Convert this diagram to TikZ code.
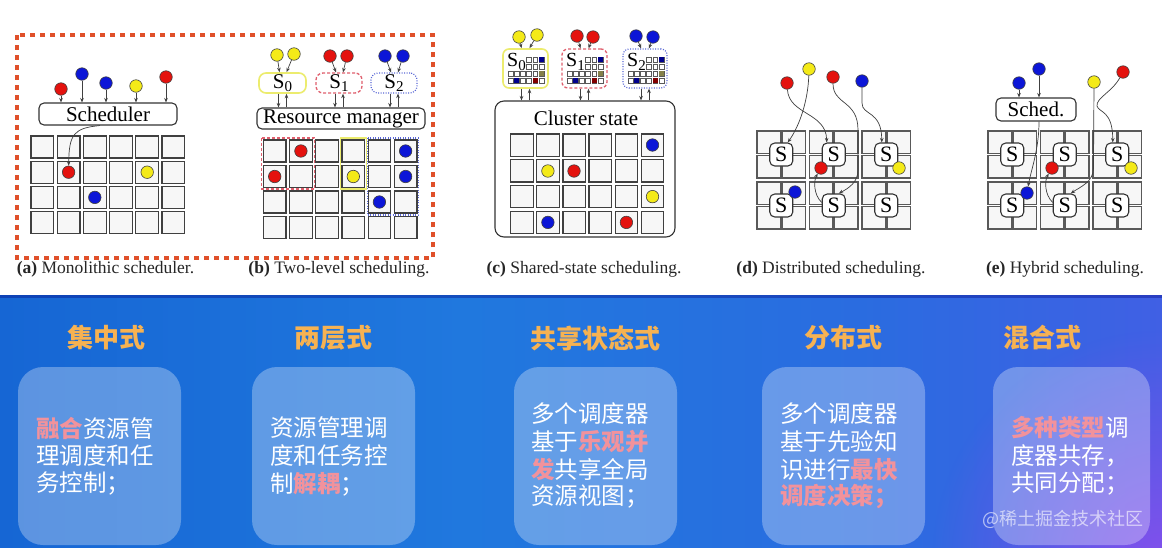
\documentclass[tikz,border=0pt]{standalone}
\usepackage{fontspec}
\setmainfont{Liberation Serif}
\newfontfamily\cjk{Noto Sans CJK SC}
\usetikzlibrary{arrows.meta,fadings}
\definecolor{ballred}{RGB}{228,18,14}
\definecolor{ballblue}{RGB}{12,22,215}
\definecolor{ballyel}{RGB}{244,234,24}
\definecolor{bordc}{RGB}{224,80,42}
\definecolor{yelc}{RGB}{236,236,110}
\definecolor{redc}{RGB}{224,96,110}
\definecolor{bluc}{RGB}{90,104,214}
\definecolor{headc}{RGB}{246,178,82}
\definecolor{pinkc}{RGB}{242,146,156}
\definecolor{bgA}{RGB}{22,102,212}
\definecolor{bgB}{RGB}{32,120,222}
\definecolor{bgC}{RGB}{42,108,224}
\definecolor{bgD}{RGB}{64,96,228}
\definecolor{purpc}{RGB}{130,80,236}
\pgfdeclarehorizontalshading{bgsh}{100bp}{color(0bp)=(bgA); color(25bp)=(bgA); color(45bp)=(bgB); color(62bp)=(bgC); color(75bp)=(bgD); color(100bp)=(bgD)}
\tikzfading[name=softcirc, inner color=transparent!0, outer color=transparent!100]
\newcommand\Sub[1]{S\raisebox{-3.5pt}{\fontsize{15}{15}\selectfont #1}}
\newcommand\hl[1]{\textcolor{pinkc}{\bfseries #1}}
\begin{document}
\begin{tikzpicture}[x=1pt,y=-1pt,
  cell/.style={draw=black!75, fill=black!3, line width=1.2pt},
  cellD/.style={draw=black!65, fill=black!3, line width=1.1pt},
  mini/.style={draw=black!65, fill=white, line width=0.5pt},
  ball/.style={circle, inner sep=0pt, minimum size=12.5pt, draw=black!75, line width=0.6pt},
  rb/.style={ball, fill=ballred},
  bb/.style={ball, fill=ballblue},
  yb/.style={ball, fill=ballyel},
  rbox/.style={draw=black!80, fill=white, rounded corners=5pt, line width=1.1pt, inner sep=0pt, font=\fontsize{21}{21}\selectfont},
  snode/.style={rbox, minimum width=23pt, minimum height=23pt, font=\fontsize{22}{22}\selectfont},
  arr/.style={draw=black!75, line width=0.7pt, -{Stealth[length=4.5pt,width=3.6pt]}},
  captxt/.style={font=\fontsize{17.5}{20}\selectfont, text=black!85},
  headtxt/.style={font=\cjk\bfseries\fontsize{26}{30}\selectfont, text=headc},
  bodytxt/.style={font=\cjk\fontsize{23.5}{28}\selectfont, text=white, anchor=west, inner sep=0pt},
  panelbox/.style={fill=white, fill opacity=0.3, rounded corners=25pt, inner sep=0pt}
]
\useasboundingbox (0,0) rectangle (1162,547);
\fill[white] (0,0) rectangle (1162,295);
% ---------- bottom background ----------
\shade[shading=bgsh] (0,295) rectangle (1162,547);
\begin{scope}
\clip (0,295) rectangle (1162,547);
\fill[purpc, path fading=softcirc] (1162,560) circle (230pt);
\end{scope}
\fill[black!50!blue, opacity=0.35] (0,295) rectangle (1162,298);

% ---------- (a) + (b) dashed frame ----------
\draw[draw=bordc, line width=4pt, dash pattern=on 5pt off 5pt] (17,35) rectangle (433,258);

% ---------- (a) Monolithic ----------
\foreach \i in {0,...,5}\foreach \j in {0,...,3}
  \draw[cell] ({31+26.2*\i},{136+25.2*\j}) rectangle ++(22.8,22);
\node[rbox, minimum width=138pt, minimum height=22pt] (sched) at (108,114) {Scheduler};
\node[rb] (a1) at (61,89) {};
\node[bb] (a2) at (82,74) {};
\node[bb] (a3) at (106,83) {};
\node[yb] (a4) at (136,86) {};
\node[rb] (a5) at (166,77) {};
\node[rb] (ag1) at (68.6,172.2) {};
\node[yb] (ag2) at (147.2,172.2) {};
\node[bb] (ag3) at (94.8,197.4) {};
\foreach \b in {a1,a2,a3,a4,a5} \draw[arr] (\b) -- (\b |- sched.north);
\draw[arr] ([xshift=-8pt]sched.south) .. controls (74,128) and (69,134) .. (ag1);
\node[captxt] (capa) at (105.5,269) {\textbf{(a)} Monolithic scheduler.};

% ---------- (b) Two-level ----------
\foreach \i in {0,...,5}\foreach \j in {0,...,3}
  \draw[cell] ({263.3+26.2*\i},{140+25.5*\j}) rectangle ++(22.7,22);
\draw[draw=redc, line width=1.3pt, dash pattern=on 3pt off 2pt] (261.5,138) rectangle (314.5,189);
\draw[draw=yelc, line width=1.5pt] (340.5,138) rectangle (366.6,189);
\draw[draw=bluc, line width=1.2pt, dash pattern=on 1pt off 1.5pt] (367.2,138) rectangle (418.5,215);
\node[rbox, draw=yelc, line width=1.6pt, rounded corners=7pt, minimum width=47pt, minimum height=20pt] (s0b) at (282.5,83) {\Sub{0}};
\node[rbox, draw=redc, line width=1.3pt, dash pattern=on 3pt off 2pt, rounded corners=7pt, minimum width=46pt, minimum height=20pt] (s1b) at (339,83) {\Sub{1}};
\node[rbox, draw=bluc, line width=1.2pt, dash pattern=on 1pt off 1.5pt, rounded corners=7pt, minimum width=46pt, minimum height=20pt] (s2b) at (394,83) {\Sub{2}};
\node[rbox, minimum width=168pt, minimum height=21pt] (rm) at (341,118.5) {Resource manager};
\node[yb] (yb1) at (277,55) {};
\node[yb] (yb2) at (294,54) {};
\node[rb] (rb1) at (330,56) {};
\node[rb] (rb2) at (347,56) {};
\node[bb] (bb1) at (385,56) {};
\node[bb] (bb2) at (403,56) {};
\draw[arr] (yb1) -- ([xshift=-3pt]s0b.north);
\draw[arr] (yb2) -- ([xshift=4pt]s0b.north);
\draw[arr] (rb1) -- ([xshift=-3pt]s1b.north);
\draw[arr] (rb2) -- ([xshift=4pt]s1b.north);
\draw[arr] (bb1) -- ([xshift=-3pt]s2b.north);
\draw[arr] (bb2) -- ([xshift=4pt]s2b.north);
\foreach \s in {s0b,s1b,s2b}{
  \draw[arr] ([xshift=-4pt]\s.south) -- ([xshift=-4pt]\s.south |- rm.north);
  \draw[arr] ([xshift=4pt]\s.south |- rm.north) -- ([xshift=4pt]\s.south);
}
\node[rb] (bg1) at (300.9,151) {};
\node[rb] (bg2) at (274.7,176.5) {};
\node[yb] (bg3) at (353.3,176.5) {};
\node[bb] (bg4) at (405.6,151) {};
\node[bb] (bg5) at (405.6,176.5) {};
\node[bb] (bg6) at (379.4,202) {};
\node[captxt] (capb) at (339,269) {\textbf{(b)} Two-level scheduling.};

% ---------- (c) Shared-state ----------
\node[rbox, rounded corners=9pt, minimum width=180pt, minimum height=136pt] (cl) at (585,169) {};
\node[font=\fontsize{21}{21}\selectfont, inner sep=0pt] (clt) at (586,118) {Cluster state};
\foreach \i in {0,...,5}\foreach \j in {0,...,3}
  \draw[cell] ({510.7+26.1*\i},{134+25.8*\j}) rectangle ++(22.5,22.2);
\node[rbox, draw=yelc, line width=1.6pt, rounded corners=6pt, minimum width=45pt, minimum height=39pt] (s0c) at (525.5,68.5) {};
\node[rbox, draw=redc, line width=1.3pt, dash pattern=on 3pt off 2pt, rounded corners=6pt, minimum width=45pt, minimum height=39pt] (s1c) at (584.5,68.5) {};
\node[rbox, draw=bluc, line width=1.2pt, dash pattern=on 1pt off 1.5pt, rounded corners=6pt, minimum width=44pt, minimum height=39pt] (s2c) at (645,68.5) {};
\foreach \bx/\k in {503/0,562/1,623/2}{
  \foreach \i in {3,4,5}\foreach \j in {0,1}
    \draw[mini] ({\bx+5+6.2*\i},{57+7*\j}) rectangle ++(4.8,4.8);
  \foreach \i in {0,...,5}\foreach \j in {2,3}
    \draw[mini] ({\bx+5+6.2*\i},{57+7*\j}) rectangle ++(4.8,4.8);
  \fill[blue!55!black] ({\bx+5+6.2*5},57) rectangle ++(4.8,4.8);
  \fill[yellow!45!black] ({\bx+5+6.2*5},71) rectangle ++(4.8,4.8);
  \fill[blue!55!black] ({\bx+5+6.2*1},78) rectangle ++(4.8,4.8);
  \fill[red!50!black] ({\bx+5+6.2*4},78) rectangle ++(4.8,4.8);
  \node[font=\fontsize{20}{20}\selectfont, inner sep=0pt, fill=white] (sct\k) at ({\bx+13.5},62) {\Sub{\k}};
}
\node[yb] (yc1) at (519,37) {};
\node[yb] (yc2) at (537,35) {};
\node[rb] (rc1) at (577,36) {};
\node[rb] (rc2) at (593,37) {};
\node[bb] (bc1) at (636,36) {};
\node[bb] (bc2) at (653,37) {};
\draw[arr] (yc1) -- ([xshift=-4pt]s0c.north);
\draw[arr] (yc2) -- ([xshift=4pt]s0c.north);
\draw[arr] (rc1) -- ([xshift=-4pt]s1c.north);
\draw[arr] (rc2) -- ([xshift=4pt]s1c.north);
\draw[arr] (bc1) -- ([xshift=-4pt]s2c.north);
\draw[arr] (bc2) -- ([xshift=4pt]s2c.north);
\foreach \s in {s0c,s1c,s2c}{
  \draw[arr] ([xshift=-4pt]\s.south) -- ([xshift=-4pt]\s.south |- cl.north);
  \draw[arr] ([xshift=4pt]\s.south |- cl.north) -- ([xshift=4pt]\s.south);
}
\node[bb] (cg1) at (652.5,145) {};
\node[yb] (cg2) at (547.9,171) {};
\node[rb] (cg3) at (574,171) {};
\node[yb] (cg4) at (652.5,196.6) {};
\node[bb] (cg5) at (547.9,222.4) {};
\node[rb] (cg6) at (626.4,222.4) {};
\node[captxt] (capc) at (584,269) {\textbf{(c)} Shared-state scheduling.};

% ---------- (d) Distributed ----------
\foreach \bi in {0,1,2}\foreach \ci in {0,1}\foreach \bj in {0,1}\foreach \cj in {0,1}
  \draw[cellD] ({757+52.5*\bi+25*\ci},{131+51*\bj+24.5*\cj}) rectangle ++(23.5,22.5);
\foreach \bi in {0,1,2}\foreach \bj in {0,1}
  \node[snode] (sd\bi\bj) at ({781.25+52.5*\bi},{154.5+51*\bj}) {S};
\node[rb] (rd1) at (787,83) {};
\node[yb] (yd1) at (809,69) {};
\node[rb] (rd2) at (833,77) {};
\node[bb] (bd1) at (862,81) {};
\node[rb] (rdg) at (821,168) {};
\node[yb] (ydg) at (899,168) {};
\node[bb] (bdg) at (795,192) {};
\draw[arr] (yd1) .. controls (808,100) and (800,125) .. ([xshift=6.5pt]sd00.north);
\draw[arr] (rd1) .. controls (789,115) and (826,112) .. ([xshift=-7pt]sd10.north);
\draw[arr] (rd2) .. controls (833,105) and (858,100) .. (858,130) -- (858,170) .. controls (858,182) and (849,188) .. ([xshift=5pt]sd11.north);
\draw[arr] (bd1) -- (862,103) .. controls (862,116) and (881.75,110) .. ([xshift=-4.5pt]sd20.north);
\draw[arr] ([yshift=3pt]sd11.west) .. controls (813,194) and (814,180) .. (rdg);
\node[captxt] (capd) at (831,269) {\textbf{(d)} Distributed scheduling.};

% ---------- (e) Hybrid ----------
\foreach \bi in {0,1,2}\foreach \ci in {0,1}\foreach \bj in {0,1}\foreach \cj in {0,1}
  \draw[cellD] ({988+52.5*\bi+25*\ci},{131+51*\bj+24.5*\cj}) rectangle ++(23.5,22.5);
\foreach \bi in {0,1,2}\foreach \bj in {0,1}
  \node[snode] (se\bi\bj) at ({1012.25+52.5*\bi},{154.5+51*\bj}) {S};
\node[rbox, minimum width=80pt, minimum height=23pt] (sch) at (1036,109.5) {Sched.};
\node[bb] (be1) at (1019,83) {};
\node[bb] (be2) at (1039,69) {};
\node[yb] (ye1) at (1094,82) {};
\node[rb] (re1) at (1123,72) {};
\node[rb] (reg) at (1052,168) {};
\node[yb] (yeg) at (1131,168) {};
\node[bb] (beg) at (1027,193) {};
\draw[arr] (be1) -- (be1 |- sch.north);
\draw[arr] (be2) -- (be2 |- sch.north);
\draw[arr] (be2 |- sch.south) .. controls (1039,150) and (1031,170) .. (beg);
\draw[arr] (ye1) -- (1093.5,168) .. controls (1093.5,182) and (1080,187) .. ([xshift=6pt]se11.north);
\draw[arr] (re1) .. controls (1112,92) and (1096,98) .. (1097,106) .. controls (1099,113) and (1112.75,110) .. ([xshift=-4.5pt]se20.north);
\draw[arr] ([yshift=3pt]se11.west) .. controls (1044,194) and (1045,180) .. (reg);
\node[captxt] (cape) at (1065,269) {\textbf{(e)} Hybrid scheduling.};

% ---------- bottom panels ----------
\node[headtxt] (h1) at (106,338) {集中式};
\node[headtxt] (h2) at (333,338) {两层式};
\node[headtxt] (h3) at (595,338) {共享状态式};
\node[headtxt] (h4) at (843,338) {分布式};
\node[headtxt] (h5) at (1042,338) {混合式};
\node[panelbox, minimum width=163pt, minimum height=178pt] (p1) at (99.5,456) {};
\node[panelbox, minimum width=163pt, minimum height=178pt] (p2) at (333.5,456) {};
\node[panelbox, minimum width=163pt, minimum height=178pt] (p3) at (595.5,456) {};
\node[panelbox, minimum width=163pt, minimum height=178pt] (p4) at (843.5,456) {};
\node[panelbox, minimum width=157pt, minimum height=178pt] (p5) at (1071.5,456) {};

\node[bodytxt] (t11) at (36,428) {\hl{融合}资源管};
\node[bodytxt] (t12) at (36,456) {理调度和任};
\node[bodytxt] (t13) at (36,484) {务控制；};

\node[bodytxt] (t21) at (270,428) {资源管理调};
\node[bodytxt] (t22) at (270,456) {度和任务控};
\node[bodytxt] (t23) at (270,484) {制\hl{解耦}；};

\node[bodytxt] (t31) at (531,414) {多个调度器};
\node[bodytxt] (t32) at (531,442) {基于\hl{乐观并}};
\node[bodytxt] (t33) at (531,469.5) {\hl{发}共享全局};
\node[bodytxt] (t34) at (531,497) {资源视图；};

\node[bodytxt] (t41) at (780,414) {多个调度器};
\node[bodytxt] (t42) at (780,442) {基于先验知};
\node[bodytxt] (t43) at (780,469.5) {识进行\hl{最快}};
\node[bodytxt] (t44) at (780,497) {\hl{调度决策；}};

\node[bodytxt] (t51) at (1011,428) {\hl{多种类型}调};
\node[bodytxt] (t52) at (1011,456) {度器共存，};
\node[bodytxt] (t53) at (1011,484) {共同分配；};

\node[font=\cjk\fontsize{18}{18}\selectfont, text=white, text opacity=0.6, inner sep=0pt] (wm) at (1063,519) {@稀土掘金技术社区};
\end{tikzpicture}
\end{document}
